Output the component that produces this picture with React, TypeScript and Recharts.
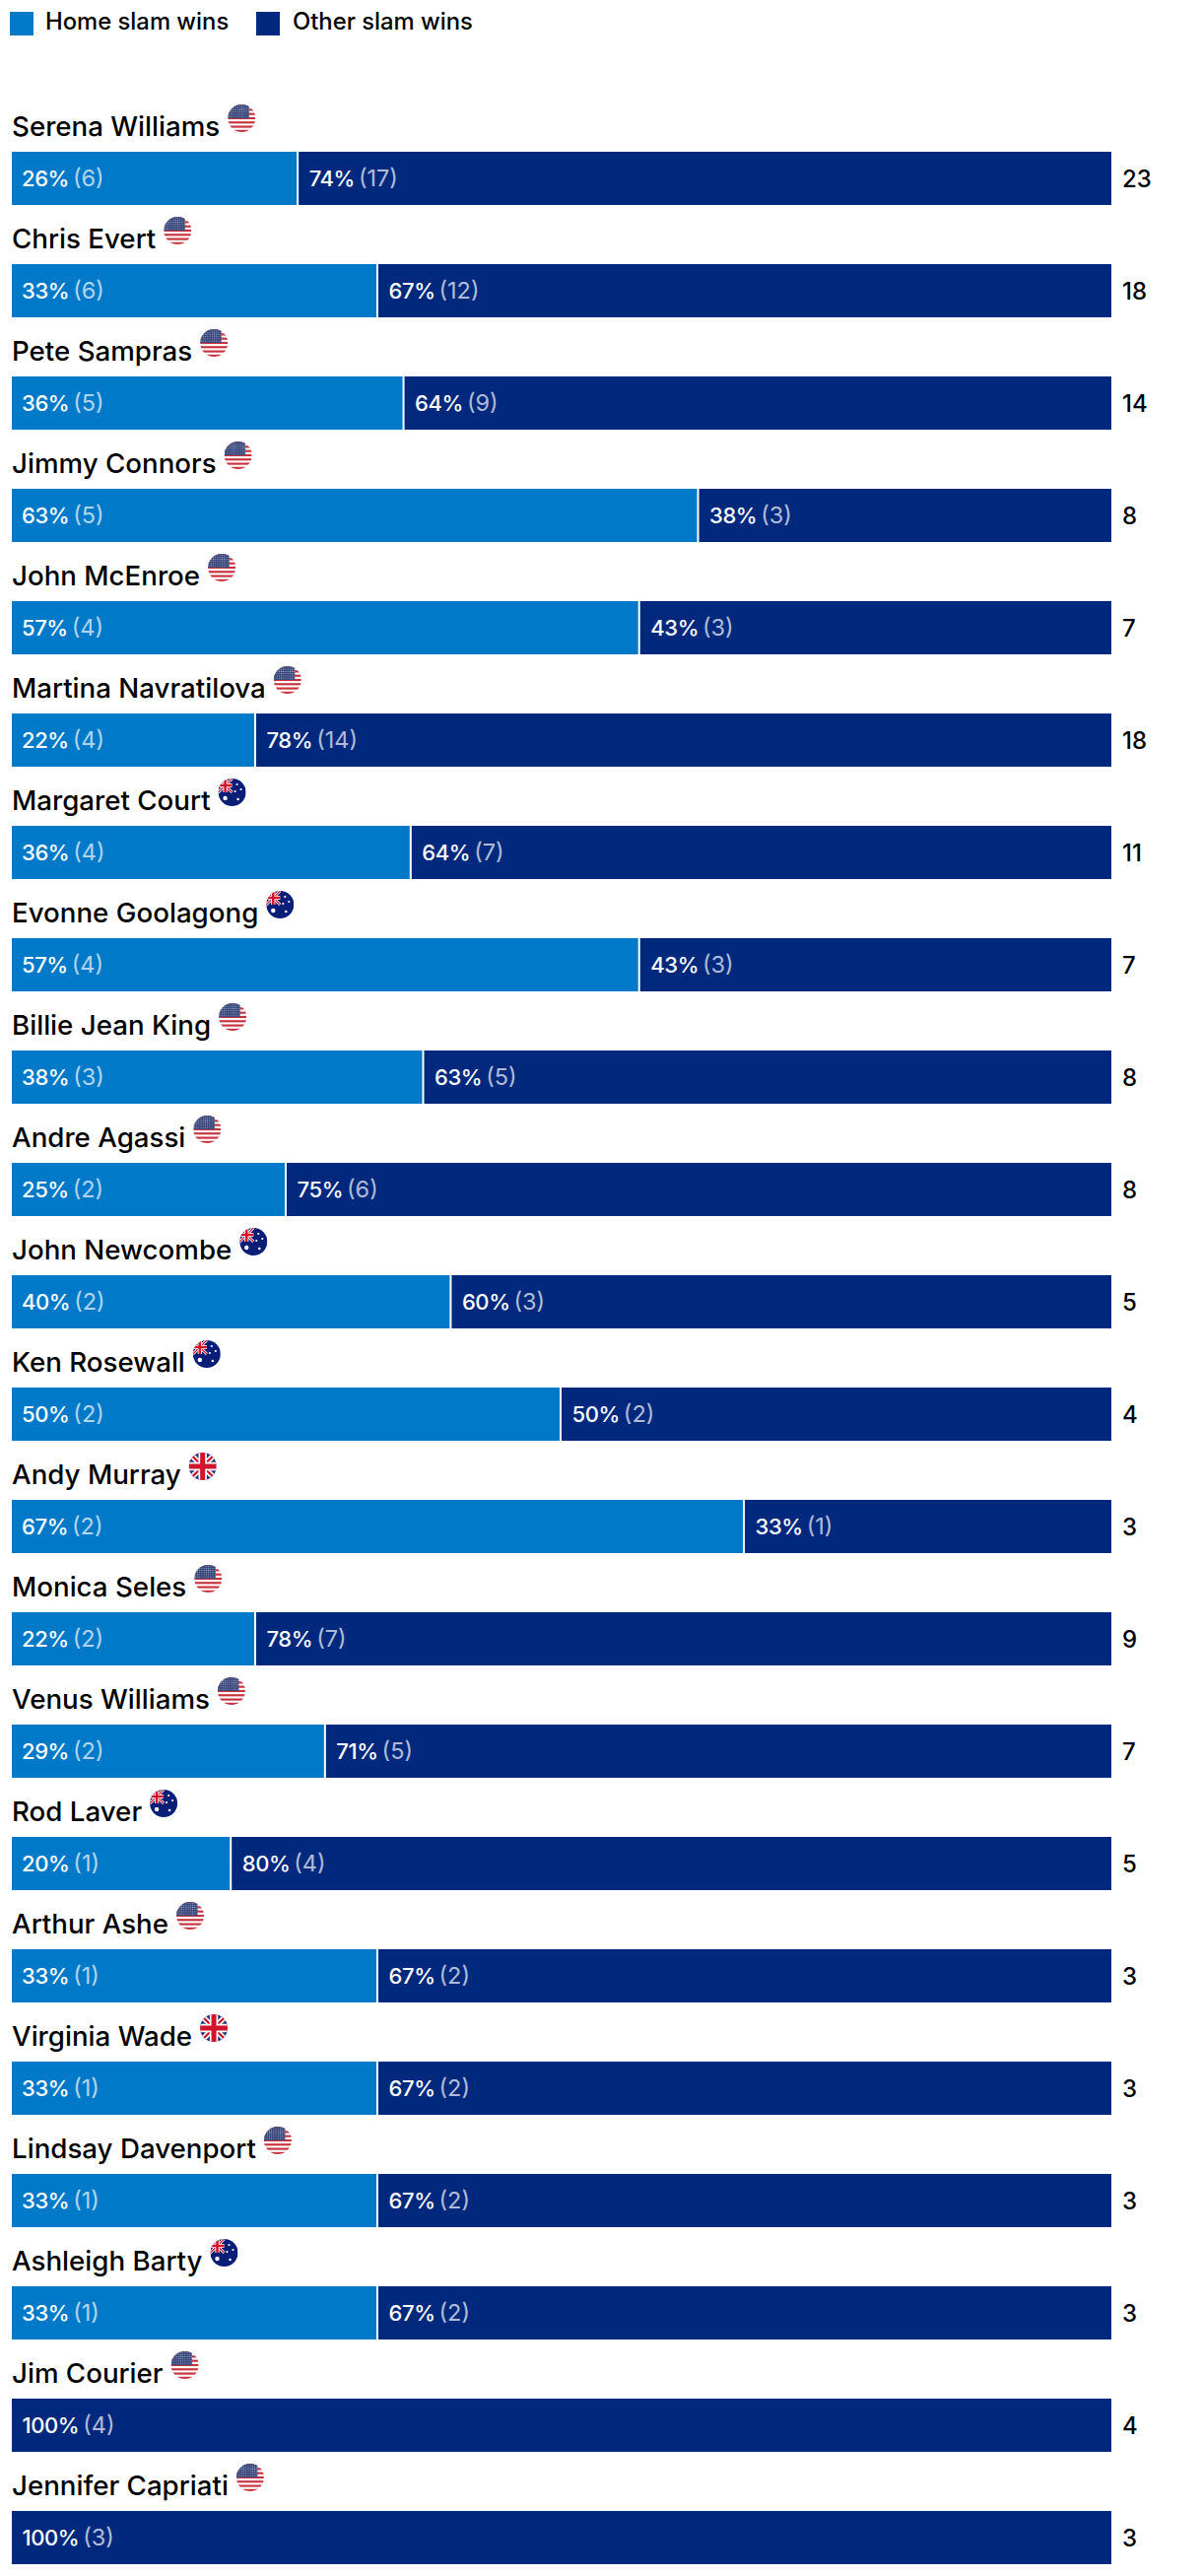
import React from 'react';
import { BarChart, Bar, XAxis, YAxis, LabelList, Legend } from 'recharts';

const players = [
  'Serena Williams', 'Chris Evert', 'Pete Sampras', 'Jimmy Connors', 'John McEnroe', 'Martina Navratilova',
  'Margaret Court', 'Evonne Goolagong', 'Billie Jean King', 'Andre Agassi', 'John Newcombe', 'Ken Rosewall',
  'Andy Murray', 'Monica Seles', 'Venus Williams', 'Rod Laver', 'Arthur Ashe', 'Virginia Wade',
  'Lindsay Davenport', 'Ashleigh Barty', 'Jim Courier', 'Jennifer Capriati',
];
const homeWins = [6, 6, 5, 5, 4, 4, 4, 4, 3, 2, 2, 2, 2, 2, 2, 1, 1, 1, 1, 1, 0, 0];
const otherWins = [17, 12, 9, 3, 3, 14, 7, 3, 5, 6, 3, 2, 1, 7, 5, 4, 2, 2, 2, 2, 4, 3];
const countries = [
  'us', 'us', 'us', 'us', 'us', 'us', 'au', 'au', 'us', 'us', 'au', 'au',
  'uk', 'us', 'us', 'au', 'us', 'uk', 'us', 'au', 'us', 'us',
];

const HOME_COLOR = '#0079C8';
const OTHER_COLOR = '#00287D';
const FONT = 'Inter, sans-serif';

const data = players.map((name, i) => ({
  name,
  home: homeWins[i],
  other: otherWins[i],
  country: countries[i],
}));

const measure = (text: string, font: string) => {
  const ctx = document.createElement('canvas').getContext('2d')!;
  ctx.font = font;
  return ctx.measureText(text).width;
};

const UnionJack = ({ size }: { size: number }) => (
  <g>
    <path d={`M0 0L${size} ${size}M${size} 0L0 ${size}`} stroke="#fff" strokeWidth={size * 0.2} />
    <path d={`M0 0L${size} ${size}M${size} 0L0 ${size}`} stroke="#CF142B" strokeWidth={size * 0.08} />
    <path d={`M${size / 2} 0V${size}M0 ${size / 2}H${size}`} stroke="#fff" strokeWidth={size * 0.3} />
    <path d={`M${size / 2} 0V${size}M0 ${size / 2}H${size}`} stroke="#CF142B" strokeWidth={size * 0.18} />
  </g>
);

const usStripes = [0, 1, 2, 3, 4, 5, 6];
const auStars = [[19, 6, 1.1], [23, 11, 1.1], [17, 13, 1.1], [20, 21, 1.3], [7, 20, 2.2]];

const Flag = ({ id, country, cx, cy }: { id: string; country: string; cx: number; cy: number }) => (
  <g transform={`translate(${cx - 14},${cy - 14})`}>
    <defs>
      <clipPath id={id}><circle cx={14} cy={14} r={14} /></clipPath>
      <pattern id={`${id}-s`} width={2.2} height={2.2} patternUnits="userSpaceOnUse">
        <circle cx={1.1} cy={1.1} r={0.55} fill="#AEB6CE" />
      </pattern>
    </defs>
    <g clipPath={`url(#${id})`}>
      {country === 'us' && (
        <g>
          <rect width={28} height={28} fill="#fff" />
          {usStripes.map((s) => (
            <rect key={s} y={s * 4.3} width={28} height={2.15} fill="#C8313E" />
          ))}
          <rect width={21.5} height={14} fill="#37467A" />
          <rect width={21.5} height={14} fill={`url(#${id}-s)`} />
        </g>
      )}
      {country === 'uk' && (
        <g>
          <rect width={28} height={28} fill="#1F2F78" />
          <UnionJack size={28} />
        </g>
      )}
      {country === 'au' && (
        <g>
          <rect width={28} height={28} fill="#0A1E78" />
          <UnionJack size={14} />
          {auStars.map(([x, y, r]) => (
            <circle key={`${x}-${y}`} cx={x} cy={y} r={r} fill="#fff" />
          ))}
        </g>
      )}
    </g>
  </g>
);

const NAME_SIZE = 27.7;

const NameTick = ({ x, y, index, payload }: any) => {
  const d = data[index];
  const w = measure(payload.value, `500 ${NAME_SIZE}px ${FONT}`);
  return (
    <g>
      <text x={x} y={y - 43} fontFamily={FONT} fontSize={NAME_SIZE} fontWeight={500} fill="#000" textAnchor="start">
        {payload.value}
      </text>
      <Flag id={`flag-${index}`} country={d.country} cx={x + w + 22} cy={y - 61} />
    </g>
  );
};

const HomeShape = ({ x, y, width, height, fill }: any) =>
  width > 0 ? <rect x={x} y={y} width={width - 2} height={height} fill={fill} /> : null;

const share = (a: number, b: number) => `${Math.round((a / (a + b)) * 100)}%`;

const SegmentLabel = ({ x, y, width, height, index, side }: any) => {
  const d = data[index];
  const wins = side === 'home' ? d.home : d.other;
  const rest = side === 'home' ? d.other : d.home;
  if (!wins || width <= 0) return null;
  return (
    <text
      x={x + (side === 'home' ? 10 : 10.5)}
      y={y + height / 2 + 8}
      fontFamily={FONT}
      fontSize={22}
      fontWeight={500}
      fill="#fff"
    >
      <tspan letterSpacing={-0.4}>{share(wins, rest)}</tspan>{' '}
      <tspan dx={-2} fontSize={23.5} fontWeight={400} fillOpacity={0.7}>({wins})</tspan>
    </text>
  );
};

const TotalLabel = ({ x, y, width, height, index }: any) => (
  <text
    x={x + width + 11}
    y={y + height / 2 + 9}
    fontFamily={FONT}
    fontSize={24}
    fontWeight={500}
    fill="#000"
  >
    {data[index].home + data[index].other}
  </text>
);

const swatch = { display: 'inline-block', width: 24, height: 24 };

const LegendRow = () => (
  <div style={{ position: 'relative', height: 48, fontFamily: FONT, fontSize: 23.8, fontWeight: 500, color: '#000' }}>
    <span style={{ ...swatch, position: 'absolute', left: 10, top: 12, background: HOME_COLOR }} />
    <span style={{ position: 'absolute', left: 46, top: 7 }}>Home slam wins</span>
    <span style={{ ...swatch, position: 'absolute', left: 260, top: 12, background: OTHER_COLOR }} />
    <span style={{ position: 'absolute', left: 297, top: 7 }}>Other slam wins</span>
  </div>
);

export default function App() {
  return (
    <div style={{ width: 1220, height: 2614, overflow: 'hidden', background: '#fff' }}>
      <style>{'body{margin:0}'}</style>
      <BarChart
        width={1220}
        height={2632}
        data={data}
        layout="vertical"
        stackOffset="expand"
        barSize={54}
        margin={{ top: 76, right: 92, bottom: 0, left: 11 }}
      >
        <XAxis type="number" domain={[0, 1]} hide />
        <YAxis
          type="category"
          dataKey="name"
          width={1}
          interval={0}
          axisLine={false}
          tickLine={false}
          tickSize={0}
          tickMargin={0}
          tick={<NameTick />}
        />
        <Legend
          verticalAlign="top"
          content={<LegendRow />}
          wrapperStyle={{ position: 'absolute', top: 0, left: 0, width: 600, height: 48 }}
        />
        <Bar dataKey="home" stackId="a" fill={HOME_COLOR} shape={<HomeShape />} isAnimationActive={false}>
          <LabelList content={(p: any) => <SegmentLabel {...p} side="home" />} />
        </Bar>
        <Bar dataKey="other" stackId="a" fill={OTHER_COLOR} isAnimationActive={false}>
          <LabelList content={(p: any) => <SegmentLabel {...p} side="other" />} />
          <LabelList content={(p: any) => <TotalLabel {...p} />} />
        </Bar>
      </BarChart>
    </div>
  );
}
